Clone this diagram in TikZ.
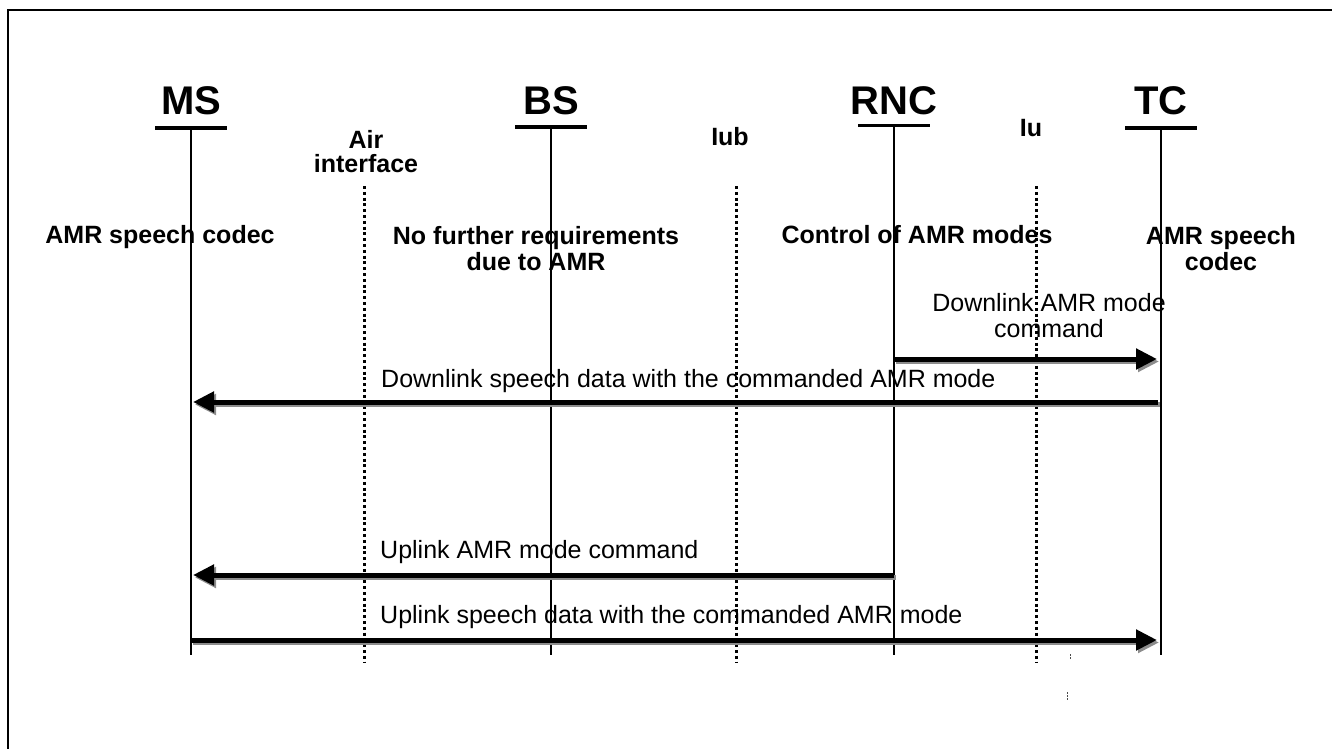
\documentclass[tikz,border=0pt]{standalone}
\usepackage{fontspec}
\setmainfont{Liberation Sans}
\usetikzlibrary{arrows.meta}
\tikzset{
	entity/.style={font=\fontsize{40}{44}\selectfont\bfseries, inner sep=0pt, anchor=base},
	role/.style={font=\fontsize{25}{26}\selectfont\bfseries, inner sep=0pt, anchor=base, align=center},
	msgtext/.style={font=\fontsize{25}{26}\selectfont, inner sep=0pt, anchor=base west},
	lifeline/.style={line width=1.2pt},
	headbar/.style={line width=3pt},
	iface/.style={line width=3pt, dash pattern=on 3pt off 2.8pt},
	msg/.style={line width=5pt, -{Triangle[length=21pt,width=20pt]}},
	msgshadow/.style={msg, draw=black!45, transform canvas={xshift=2pt, yshift=-2.5pt}},
}

\begin{document}
\begin{tikzpicture}[x=1pt,y=-1pt]
		%%%%% START %%%%%
		\useasboundingbox (0,0) rectangle (1332,749);
		
		% frame
		\draw[line width=2.5pt] (1332,10) -- (8,10) -- (8,749);
		
		% entities
		\node[entity] (ms) at (191,115) {MS};
		\node[entity] (bs) at (551,115) {BS};
		\node[entity] (rnc) at (894,115) {RNC};
		\node[entity] (tc) at (1161,115) {TC};
		
		\foreach \n/\x/\y in {ms/191/128, bs/551/127, rnc/894/126, tc/1161/128} {
			\coordinate (\n-top) at (\x,\y);
			\coordinate (\n-end) at (\x,655);
			\draw[headbar] ([xshift=-36pt]\n-top) -- ([xshift=36pt]\n-top);
			\draw[lifeline] (\n-top) -- (\n-end);
		}
		
		% interfaces
		\foreach \n/\x in {air/364, iub/736, iu/1036} {
			\coordinate (\n-top) at (\x,186);
			\coordinate (\n-end) at (\x,662);
			\draw[iface] (\n-top) -- (\n-end);
		}
		\node[role] (air) at (366,172) {Air\\[-2pt]interface};
		\node[role] (iub) at (730,145) {Iub};
		\node[role] (iu) at (1031,136) {Iu};
		
		% roles
		\node[role] (ms-role) at (160,243) {AMR speech codec};
		\node[role] (bs-role) at (536,270) {No further requirements\\due to AMR};
		\node[role] (rnc-role) at (917,243) {Control of AMR modes};
		\node[role] (tc-role) at (1221,270) {AMR speech\\codec};
		
		% messages
		\coordinate (rnc-a) at (894,359);
		\coordinate (tc-a) at (1157,359);
		\coordinate (tc-b) at (1158,402);
		\coordinate (ms-b) at (193,402);
		\coordinate (rnc-c) at (894,575);
		\coordinate (ms-c) at (193,575);
		\coordinate (ms-d) at (191,640);
		\coordinate (tc-d) at (1157,640);
		
		\foreach \a/\b in {rnc-a/tc-a, tc-b/ms-b, rnc-c/ms-c, ms-d/tc-d} {
			\draw[msgshadow] (\a) -- (\b);
			\draw[msg] (\a) -- (\b);
		}
		
		\node[msgtext, anchor=base, align=center] (dl-cmd) at (1049,337.5) {Downlink AMR mode\\command};
		\node[msgtext] (dl-data) at (381,387) {Downlink speech data with the commanded AMR mode};
		\node[msgtext] (ul-cmd) at (380,558) {Uplink AMR mode command};
		\node[msgtext] (ul-data) at (380,623) {Uplink speech data with the commanded AMR mode};
		
		% stray marks
		\draw[line width=1pt, dash pattern=on 1.5pt off 1.5pt, black!70] (1070,654) -- (1070,659);
		\draw[line width=1pt, dash pattern=on 1.5pt off 1.5pt, black!70] (1067,692) -- (1067,701);
		%%%%% END %%%%%
	\end{tikzpicture}
\end{document}
